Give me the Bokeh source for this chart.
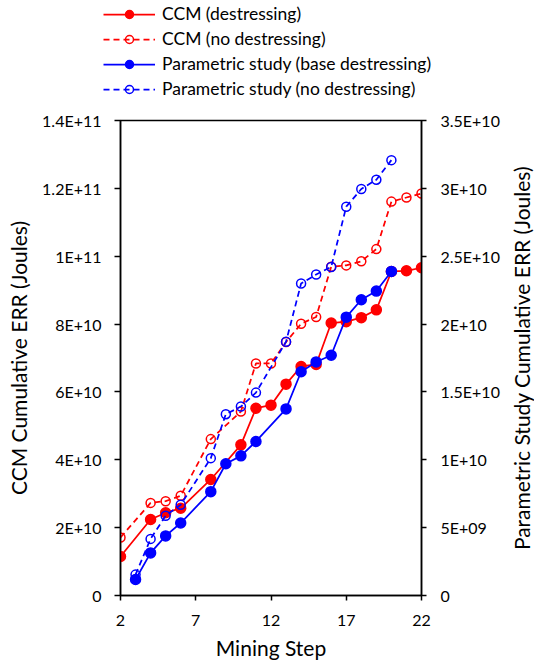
from bokeh.plotting import figure
from bokeh.layouts import row
from bokeh.models import Range1d, LinearAxis, FixedTicker, Legend, LegendItem
from bokeh.embed import file_html
from bokeh.resources import INLINE

# ---- data ----
ccm_steps = [2, 4, 5, 6, 8, 10, 11, 12, 13, 14, 15, 16, 17, 18, 19, 20, 21, 22]
ccm_destressing = [1.15e10, 2.24e10, 2.44e10, 2.57e10, 3.42e10, 4.44e10, 5.52e10, 5.61e10,
                   6.23e10, 6.75e10, 6.81e10, 8.03e10, 8.07e10, 8.19e10, 8.42e10, 9.55e10,
                   9.57e10, 9.66e10]
ccm_no_destressing = [1.71e10, 2.73e10, 2.78e10, 2.94e10, 4.61e10, 5.42e10, 6.84e10, 6.84e10,
                      7.47e10, 8.01e10, 8.21e10, 9.69e10, 9.73e10, 9.85e10, 1.021e11, 1.161e11,
                      1.173e11, 1.185e11]

ps_steps = [3, 4, 5, 6, 8, 9, 10, 11, 13, 14, 15, 16, 17, 18, 19, 20]
ps_base_destressing = [1.18e9, 3.14e9, 4.39e9, 5.34e9, 7.65e9, 9.71e9, 1.029e10, 1.135e10,
                       1.375e10, 1.649e10, 1.721e10, 1.770e10, 2.051e10, 2.179e10, 2.243e10,
                       2.388e10]
ps_no_destressing = [1.54e9, 4.17e9, 5.88e9, 6.69e9, 1.012e10, 1.336e10, 1.392e10, 1.495e10,
                     1.870e10, 2.299e10, 2.365e10, 2.421e10, 2.865e10, 2.995e10, 3.064e10,
                     3.208e10]

x_ticks = [2, 7, 12, 17, 22]
left_ticks = [0.0, 2e10, 4e10, 6e10, 8e10, 1e11, 1.2e11, 1.4e11]
left_tick_labels = ["0", "2E+10", "4E+10", "6E+10", "8E+10", "1E+11", "1.2E+11", "1.4E+11"]
right_ticks = [0.0, 5e9, 1e10, 1.5e10, 2e10, 2.5e10, 3e10, 3.5e10]
right_tick_labels = ["0", "5E+09", "1E+10", "1.5E+10", "2E+10", "2.5E+10", "3E+10", "3.5E+10"]

labels = ["CCM (destressing)", "CCM (no destressing)",
          "Parametric study (base destressing)", "Parametric study (no destressing)"]
x_title = "Mining Step"
left_title = "CCM Cumulative ERR (Joules)"
right_title = "Parametric Study Cumulative ERR (Joules)"

RED = "#FF0000"
BLUE = "#0000FF"
FONT = "Lato"
LEG_H = 105
MAIN_W = 503
TOP = 120 - LEG_H
BOTTOM = 70

styles = [
    dict(color=RED, dash="solid", fill=RED, size=10),
    dict(color=RED, dash="6 4", fill=None, size=9),
    dict(color=BLUE, dash="solid", fill=BLUE, size=10),
    dict(color=BLUE, dash="6 4", fill=None, size=9),
]
series = [
    (ccm_steps, ccm_destressing, "default"),
    (ccm_steps, ccm_no_destressing, "default"),
    (ps_steps, ps_base_destressing, "right"),
    (ps_steps, ps_no_destressing, "right"),
]

# ---- main plot ----
p = figure(width=MAIN_W, height=665 - LEG_H, output_backend="svg", toolbar_location=None,
           x_range=Range1d(2, 22), y_range=Range1d(0, 1.4e11),
           min_border_left=120, min_border_right=MAIN_W - 421, min_border_top=TOP,
           min_border_bottom=BOTTOM)
p.extra_y_ranges = {"right": Range1d(0, 3.5e10)}

p.xgrid.visible = False
p.ygrid.visible = False
p.outline_line_color = "black"
p.outline_line_width = 1.5
p.background_fill_color = "white"
p.border_fill_color = "white"

for (xs, ys, rng), st in zip(series, styles):
    p.line(xs, ys, line_color=st["color"], line_width=1.75, line_dash=st["dash"], y_range_name=rng)
    p.scatter(xs, ys, size=st["size"], fill_color=st["fill"], line_color=st["color"],
              line_width=1.5, y_range_name=rng)


def style_axis(ax):
    ax.axis_line_color = "black"
    ax.axis_line_width = 1.5
    ax.major_tick_line_color = "black"
    ax.major_tick_line_width = 1.5
    ax.major_tick_in = 0
    ax.minor_tick_line_color = None
    ax.major_label_text_font = FONT
    ax.major_label_text_font_size = "16px"
    ax.major_label_text_color = "black"
    ax.axis_label_text_font = FONT
    ax.axis_label_text_font_size = "21px"
    ax.axis_label_text_font_style = "normal"
    ax.axis_label_text_color = "black"


xa = p.xaxis[0]
xa.ticker = FixedTicker(ticks=x_ticks)
xa.axis_label = x_title
style_axis(xa)
xa.major_tick_out = 5
xa.major_label_standoff = 14
xa.axis_label_standoff = 6

ya = p.yaxis[0]
ya.ticker = FixedTicker(ticks=left_ticks)
ya.major_label_overrides = {t: l for t, l in zip(left_ticks, left_tick_labels)}
ya.axis_label = left_title
style_axis(ya)
ya.major_tick_out = 6
ya.major_label_standoff = 13
ya.axis_label_standoff = 8

ra = LinearAxis(y_range_name="right", ticker=FixedTicker(ticks=right_ticks))
ra.major_label_overrides = {t: l for t, l in zip(right_ticks, right_tick_labels)}
style_axis(ra)
ra.major_tick_out = 5
ra.major_label_standoff = 14
p.add_layout(ra, "right")

# ---- right-hand title strip (reads bottom to top, like the reference) ----
tf = figure(width=534 - MAIN_W, height=665 - LEG_H, output_backend="svg", toolbar_location=None,
            x_range=Range1d(0, 1), y_range=Range1d(0, 1), x_axis_type=None,
            min_border_left=534 - MAIN_W - 1, min_border_right=0,
            min_border_top=TOP, min_border_bottom=BOTTOM)
tf.outline_line_color = None
tf.xgrid.visible = False
tf.ygrid.visible = False
ta = tf.yaxis[0]
ta.ticker = FixedTicker(ticks=[])
style_axis(ta)
ta.axis_line_color = None
ta.major_tick_out = 0
ta.major_label_standoff = 0
ta.axis_label_standoff = 0
ta.axis_label = right_title

# ---- legend strip (its own small figure; its copies of the series lie outside its ranges) ----
lg = figure(width=534, height=LEG_H, output_backend="svg", toolbar_location=None,
            x_range=Range1d(-2, -1), y_range=Range1d(-2, -1), x_axis_type=None, y_axis_type=None,
            min_border=0)
lg.outline_line_color = None
lg.xgrid.visible = False
lg.ygrid.visible = False
items = []
for lab, (xs, ys, _), st in zip(labels, series, styles):
    rl = lg.line(xs, ys, line_color=st["color"], line_width=1.75, line_dash=st["dash"])
    rs = lg.scatter(xs, ys, size=st["size"], fill_color=st["fill"], line_color=st["color"], line_width=1.5)
    items.append(LegendItem(label=lab, renderers=[rl, rs]))

legend = Legend(items=items, location=(103, 6), glyph_width=52, glyph_height=20, label_height=20,
                label_standoff=7, spacing=4, padding=0, margin=0,
                border_line_color=None, background_fill_alpha=0,
                label_text_font=FONT, label_text_font_size="17.5px", label_text_color="black")
lg.add_layout(legend, "center")

open("out.html", "w").write(file_html([lg, row(p, tf, spacing=0)], INLINE))
